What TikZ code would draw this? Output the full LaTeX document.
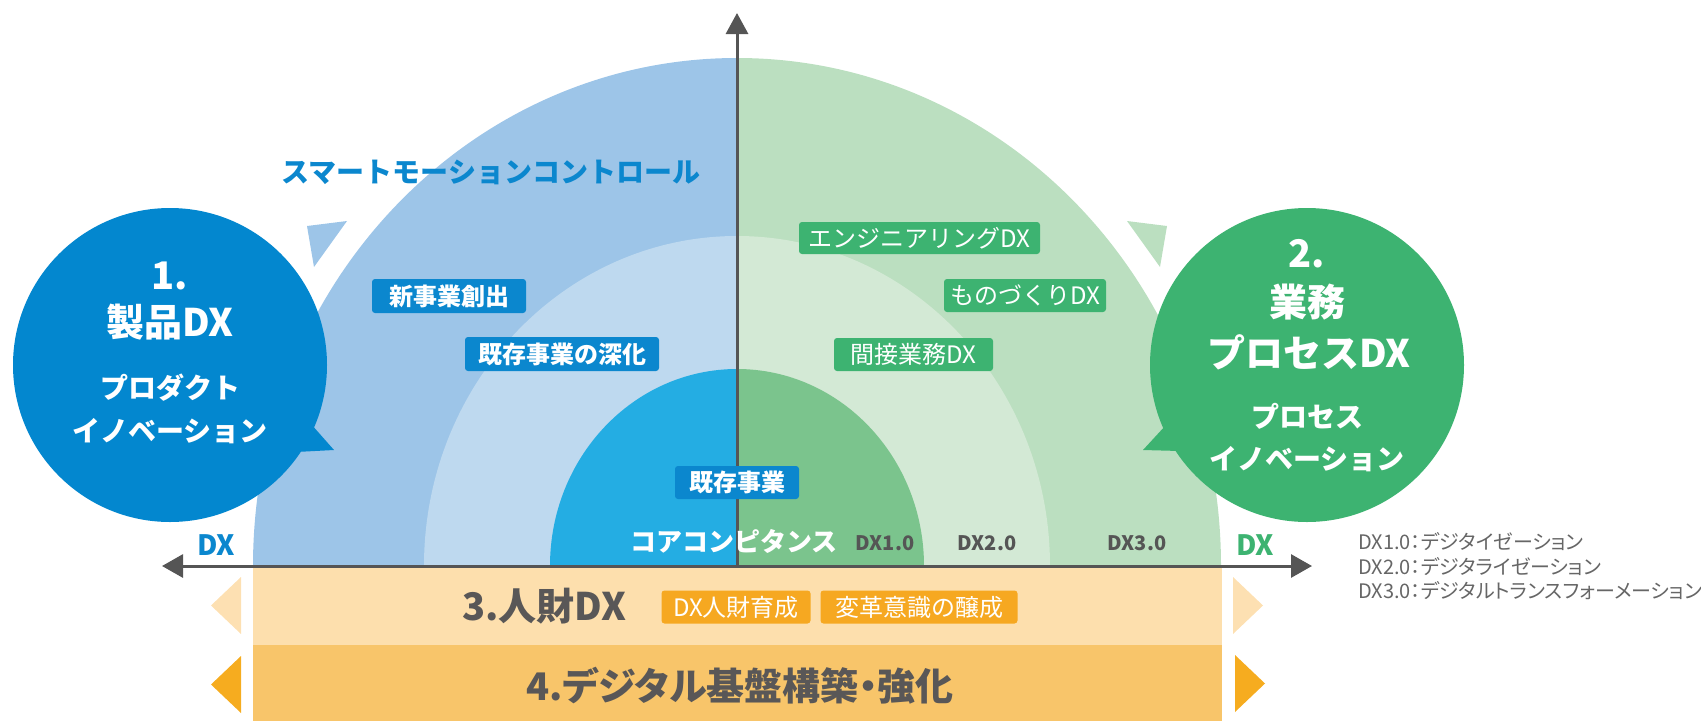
\documentclass[tikz,border=0pt]{standalone}
\usepackage{fontspec}
\setmainfont{Noto Sans CJK JP}
\newfontfamily\legendfont{Noto Sans CJK JP}[RawFeature=+palt]
\newfontfamily\paltbold{Noto Sans CJK JP}[RawFeature=+palt]
\usetikzlibrary{arrows.meta}
\definecolor{oblue}{HTML}{9DC5E8}
\definecolor{mblue}{HTML}{BED9EF}
\definecolor{cblue}{HTML}{24ADE3}
\definecolor{ogreen}{HTML}{BBDFC0}
\definecolor{mgreen}{HTML}{D3E9D5}
\definecolor{cgreen}{HTML}{7BC48D}
\definecolor{bigblue}{HTML}{0387CF}
\definecolor{biggreen}{HTML}{3DB371}
\definecolor{labblue}{HTML}{0B87CE}
\definecolor{band1}{HTML}{FDDFAD}
\definecolor{band2}{HTML}{F8C56A}
\definecolor{tri1}{HTML}{FDE0B2}
\definecolor{tri2}{HTML}{F6AC1F}
\definecolor{laborange}{HTML}{F6A821}
\definecolor{axisgray}{HTML}{555555}
\definecolor{textgray}{HTML}{595757}
\definecolor{leggray}{HTML}{666666}
\tikzset{
  lab/.style={fill=#1, text=white, rounded corners=3pt, inner sep=0pt, minimum height=33pt},
  bluelab/.style={lab=labblue, font=\fontsize{24}{24}\selectfont\bfseries},
  greenlab/.style={lab=biggreen, font=\fontsize{24}{24}\selectfont},
  orangelab/.style={lab=laborange, font=\fontsize{24}{24}\selectfont},
  bigtxt/.style={text=white, inner sep=0pt, font=\fontsize{38}{38}\selectfont\bfseries},
  subtxt/.style={text=white, inner sep=0pt, font=\fontsize{28}{28}\selectfont\bfseries},
  dxlab/.style={text=axisgray, inner sep=0pt, font=\fontsize{20}{20}\selectfont\bfseries},
  bandtxt/.style={text=textgray, inner sep=0pt, font=\fontsize{38}{38}\selectfont\bfseries},
  legtxt/.style={text=leggray, inner sep=0pt, anchor=west, font=\fontsize{20}{20}\selectfont\legendfont},
  axisline/.style={draw=axisgray, line width=3pt},
}
\begin{document}
\begin{tikzpicture}[x=1pt, y=-1pt]
\path[use as bounding box] (0,0) rectangle (1701,721);
% half discs
\begin{scope}
\clip (0,0) rectangle (737,566);
\fill[oblue] (737,566) ellipse [x radius=484pt, y radius=508pt];
\fill[mblue] (737,566) ellipse [x radius=313pt, y radius=330pt];
\fill[cblue] (737,566) ellipse [x radius=187pt, y radius=197pt];
\end{scope}
\begin{scope}
\clip (737,0) rectangle (1701,566);
\fill[ogreen] (737,566) ellipse [x radius=484pt, y radius=508pt];
\fill[mgreen] (737,566) ellipse [x radius=313pt, y radius=330pt];
\fill[cgreen] (737,566) ellipse [x radius=187pt, y radius=197pt];
\end{scope}
% small detached triangles
\fill[oblue] (307,226) -- (347,221) -- (314,267) -- cycle;
\fill[ogreen] (1167,226) -- (1127,221) -- (1160,267) -- cycle;
% big bubbles
\node[circle, fill=bigblue, minimum size=314pt, inner sep=0pt] (c1) at (170,365) {};
\fill[bigblue] (311,424) -- (334,450) -- (296,452) -- cycle;
\node[circle, fill=biggreen, minimum size=314pt, inner sep=0pt] (c2) at (1307,365) {};
\fill[biggreen] (1166,425) -- (1143,450) -- (1180,451) -- cycle;
\node[bigtxt] (c1a) at (170,276) {1.};
\node[bigtxt] (c1b) at (170,322) {製品DX};
\node[subtxt] (c1c) at (170,388) {プロダクト};
\node[subtxt] (c1d) at (170,431) {イノベーション};
\node[bigtxt] (c2a) at (1307,254) {2.};
\node[bigtxt] (c2b) at (1307,302) {業務};
\node[bigtxt] (c2c) at (1309,352) {プロセスDX};
\node[subtxt] (c2d) at (1307,416) {プロセス};
\node[subtxt] (c2e) at (1307,459) {イノベーション};
% bands
\fill[band1] (253,566) rectangle (1222,645);
\fill[band2] (253,645) rectangle (1222,721);
\fill[tri1] (241,577) -- (211,605.5) -- (241,634) -- cycle;
\fill[tri2] (241,656) -- (211,684.5) -- (241,713) -- cycle;
\fill[tri1] (1233,577) -- (1263,605.5) -- (1233,634) -- cycle;
\fill[tri2] (1235,655) -- (1265,683.5) -- (1235,712) -- cycle;
% axes
\coordinate (o) at (737,566);
\coordinate (top) at (737,13);
\coordinate (hl) at (162,566);
\coordinate (hr) at (1312,566);
\draw[axisline, -{Triangle[length=21pt, width=22pt]}] (o) -- (top);
\draw[axisline, {Triangle[length=21pt, width=23pt]}-{Triangle[length=21pt, width=23pt]}] (hl) -- (hr);
% title
\node[text=labblue, inner sep=0pt, font=\fontsize{28}{28}\selectfont\bfseries] (title) at (491,172) {スマートモーションコントロール};
% labels
\node[bluelab, minimum width=154pt, minimum height=34pt] (l1) at (449,296) {新事業創出};
\node[bluelab, minimum width=194pt, minimum height=34pt] (l2) at (562,354) {既存事業の深化};
\node[bluelab, minimum width=124pt] (l3) at (737,482.5) {既存事業};
\node[greenlab, minimum width=241pt, minimum height=32pt] (g1) at (919.5,238) {エンジニアリングDX};
\node[greenlab, minimum width=162pt] (g2) at (1025,295.5) {ものづくりDX};
\node[greenlab, minimum width=159pt] (g3) at (913.5,354.5) {間接業務DX};
\node[text=white, inner sep=0pt, font=\fontsize{26}{26}\selectfont\bfseries] (core) at (734,541) {コアコンピタンス};
\node[dxlab] (d1) at (885,543) {DX1.0};
\node[dxlab] (d2) at (987,543) {DX2.0};
\node[dxlab] (d3) at (1137,543) {DX3.0};
\node[text=labblue, inner sep=0pt, font=\fontsize{28}{28}\selectfont\bfseries] (dxl) at (216,545) {DX};
\node[text=biggreen, inner sep=0pt, font=\fontsize{28}{28}\selectfont\bfseries] (dxr) at (1255,545) {DX};
% band texts
\node[bandtxt] (b1) at (544,606) {3.人財DX};
\node[orangelab, minimum width=149pt] (o1) at (736,607) {DX人財育成};
\node[orangelab, minimum width=197pt] (o2) at (919,607) {変革意識の醸成};
\node[text=textgray, inner sep=0pt, font=\fontsize{38}{38}\selectfont\paltbold\bfseries] (b2) at (740,686) {4.デジタル基盤構築・強化};
% legend
\node[legtxt] (lg1) at (1358,542) {DX1.0：デジタイゼーション};
\node[legtxt] (lg2) at (1358,567) {DX2.0：デジタライゼーション};
\node[legtxt] (lg3) at (1358,591) {DX3.0：デジタルトランスフォーメーション};
\end{tikzpicture}
\end{document}
